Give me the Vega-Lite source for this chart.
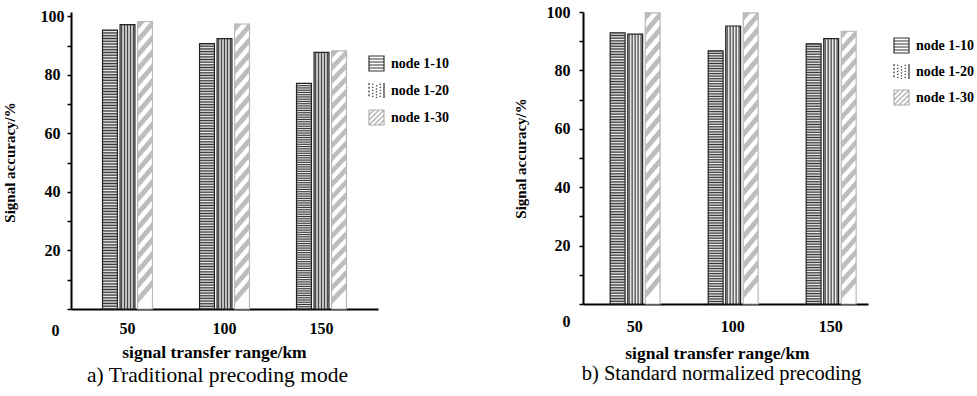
{
  "$schema": "https://vega.github.io/schema/vega-lite/v6.json",
  "background": "white",
  "padding": {"left": 2, "top": 4, "right": 5, "bottom": 5},
  "spacing": 64,
  "resolve": {"scale": {"color": "independent", "shape": "independent"}, "legend": {"color": "independent", "shape": "independent"}},
  "config": {"view": {"stroke": null}, "font": "Liberation Serif"},
  "hconcat": [
    {
      "width": 307,
      "height": 297,
      "data": {"values": [
        {"range": "50", "series": "node 1-10", "value": 95.3},
        {"range": "50", "series": "node 1-20", "value": 97.2},
        {"range": "50", "series": "node 1-30", "value": 98.2},
        {"range": "100", "series": "node 1-10", "value": 90.7},
        {"range": "100", "series": "node 1-20", "value": 92.4},
        {"range": "100", "series": "node 1-30", "value": 97.4},
        {"range": "150", "series": "node 1-10", "value": 77.1},
        {"range": "150", "series": "node 1-20", "value": 87.7},
        {"range": "150", "series": "node 1-30", "value": 88.2}
      ]},
      "title": {"text": "a) Traditional precoding mode", "orient": "bottom", "anchor": "middle", "font": "Liberation Serif", "fontSize": 21.5, "fontWeight": "normal", "color": "#000", "offset": 4, "dx": -7},
      "encoding": {
        "x": {"field": "range", "type": "ordinal", "sort": ["50", "100", "150"], "title": "signal transfer range/km",
          "scale": {"paddingInner": 0.485, "paddingOuter": 0.325},
          "axis": {"labelAngle": 0, "ticks": false, "domainColor": "#000", "domainWidth": 2, "labelFont": "Liberation Serif", "labelFontSize": 16, "labelFontWeight": "bold", "labelColor": "#000", "labelPadding": 11, "titleFont": "Liberation Serif", "titleFontSize": 17.5, "titleFontWeight": "bold", "titleColor": "#000", "titlePadding": 7, "titleX": 143}},
        "xOffset": {"field": "series", "sort": ["node 1-10", "node 1-20", "node 1-30"], "scale": {"paddingInner": 0.15, "paddingOuter": 0}},
        "y": {"field": "value", "type": "quantitative", "title": "Signal accuracy/%",
          "scale": {"domain": [0, 101.5], "nice": false},
          "axis": {"values": [0, 10, 20, 30, 40, 50, 60, 70, 80, 90, 100], "labelExpr": "datum.value % 20 === 0 ? datum.label : ''", "grid": false, "domainColor": "#000", "domainWidth": 2, "tickColor": "#000", "tickWidth": 1.5, "tickSize": 4, "labelOverlap": false, "labelFlush": false, "labelAlign": "center",
            "labelPadding": {"condition": {"test": "datum.value === 0", "value": 12}, "value": 15},
            "labelOffset": {"condition": {"test": "datum.value === 0", "value": 21}, "value": 0},
            "labelFont": "Liberation Serif", "labelFontSize": 16, "labelFontWeight": "bold", "labelColor": "#000",
            "titleFont": "Liberation Serif", "titleFontSize": 15, "titleFontWeight": "bold", "titleColor": "#000", "titlePadding": 23, "titleY": 150}}
      },
      "layer": [
        {
          "mark": {"type": "bar", "strokeWidth": 1.2},
          "encoding": {
            "stroke": {"condition": {"test": "datum.series === 'node 1-30'", "value": "#b8b8b8"}, "value": "#222"},
            "fill": {
              "condition": [
                {"test": "datum.series === 'node 1-10'", "value": {"gradient": "linear", "x1": 0, "y1": 0, "x2": 0, "y2": 1, "stops": [
                  {"offset":0,"color":"#333"},{"offset":0.005,"color":"#eee"},{"offset":0.01,"color":"#333"},{"offset":0.015,"color":"#eee"},{"offset":0.02,"color":"#333"},{"offset":0.025,"color":"#eee"},{"offset":0.03,"color":"#333"},{"offset":0.035,"color":"#eee"},{"offset":0.04,"color":"#333"},{"offset":0.045,"color":"#eee"},
                  {"offset":0.05,"color":"#333"},{"offset":0.055,"color":"#eee"},{"offset":0.06,"color":"#333"},{"offset":0.065,"color":"#eee"},{"offset":0.07,"color":"#333"},{"offset":0.075,"color":"#eee"},{"offset":0.08,"color":"#333"},{"offset":0.085,"color":"#eee"},{"offset":0.09,"color":"#333"},{"offset":0.095,"color":"#eee"},
                  {"offset":0.1,"color":"#333"},{"offset":0.105,"color":"#eee"},{"offset":0.11,"color":"#333"},{"offset":0.115,"color":"#eee"},{"offset":0.12,"color":"#333"},{"offset":0.125,"color":"#eee"},{"offset":0.13,"color":"#333"},{"offset":0.135,"color":"#eee"},{"offset":0.14,"color":"#333"},{"offset":0.145,"color":"#eee"},
                  {"offset":0.15,"color":"#333"},{"offset":0.155,"color":"#eee"},{"offset":0.16,"color":"#333"},{"offset":0.165,"color":"#eee"},{"offset":0.17,"color":"#333"},{"offset":0.175,"color":"#eee"},{"offset":0.18,"color":"#333"},{"offset":0.185,"color":"#eee"},{"offset":0.19,"color":"#333"},{"offset":0.195,"color":"#eee"},
                  {"offset":0.2,"color":"#333"},{"offset":0.205,"color":"#eee"},{"offset":0.21,"color":"#333"},{"offset":0.215,"color":"#eee"},{"offset":0.22,"color":"#333"},{"offset":0.225,"color":"#eee"},{"offset":0.23,"color":"#333"},{"offset":0.235,"color":"#eee"},{"offset":0.24,"color":"#333"},{"offset":0.245,"color":"#eee"},
                  {"offset":0.25,"color":"#333"},{"offset":0.255,"color":"#eee"},{"offset":0.26,"color":"#333"},{"offset":0.265,"color":"#eee"},{"offset":0.27,"color":"#333"},{"offset":0.275,"color":"#eee"},{"offset":0.28,"color":"#333"},{"offset":0.285,"color":"#eee"},{"offset":0.29,"color":"#333"},{"offset":0.295,"color":"#eee"},
                  {"offset":0.3,"color":"#333"},{"offset":0.305,"color":"#eee"},{"offset":0.31,"color":"#333"},{"offset":0.315,"color":"#eee"},{"offset":0.32,"color":"#333"},{"offset":0.325,"color":"#eee"},{"offset":0.33,"color":"#333"},{"offset":0.335,"color":"#eee"},{"offset":0.34,"color":"#333"},{"offset":0.345,"color":"#eee"},
                  {"offset":0.35,"color":"#333"},{"offset":0.355,"color":"#eee"},{"offset":0.36,"color":"#333"},{"offset":0.365,"color":"#eee"},{"offset":0.37,"color":"#333"},{"offset":0.375,"color":"#eee"},{"offset":0.38,"color":"#333"},{"offset":0.385,"color":"#eee"},{"offset":0.39,"color":"#333"},{"offset":0.395,"color":"#eee"},
                  {"offset":0.4,"color":"#333"},{"offset":0.405,"color":"#eee"},{"offset":0.41,"color":"#333"},{"offset":0.415,"color":"#eee"},{"offset":0.42,"color":"#333"},{"offset":0.425,"color":"#eee"},{"offset":0.43,"color":"#333"},{"offset":0.435,"color":"#eee"},{"offset":0.44,"color":"#333"},{"offset":0.445,"color":"#eee"},
                  {"offset":0.45,"color":"#333"},{"offset":0.455,"color":"#eee"},{"offset":0.46,"color":"#333"},{"offset":0.465,"color":"#eee"},{"offset":0.47,"color":"#333"},{"offset":0.475,"color":"#eee"},{"offset":0.48,"color":"#333"},{"offset":0.485,"color":"#eee"},{"offset":0.49,"color":"#333"},{"offset":0.495,"color":"#eee"},
                  {"offset":0.5,"color":"#333"},{"offset":0.505,"color":"#eee"},{"offset":0.51,"color":"#333"},{"offset":0.515,"color":"#eee"},{"offset":0.52,"color":"#333"},{"offset":0.525,"color":"#eee"},{"offset":0.53,"color":"#333"},{"offset":0.535,"color":"#eee"},{"offset":0.54,"color":"#333"},{"offset":0.545,"color":"#eee"},
                  {"offset":0.55,"color":"#333"},{"offset":0.555,"color":"#eee"},{"offset":0.56,"color":"#333"},{"offset":0.565,"color":"#eee"},{"offset":0.57,"color":"#333"},{"offset":0.575,"color":"#eee"},{"offset":0.58,"color":"#333"},{"offset":0.585,"color":"#eee"},{"offset":0.59,"color":"#333"},{"offset":0.595,"color":"#eee"},
                  {"offset":0.6,"color":"#333"},{"offset":0.605,"color":"#eee"},{"offset":0.61,"color":"#333"},{"offset":0.615,"color":"#eee"},{"offset":0.62,"color":"#333"},{"offset":0.625,"color":"#eee"},{"offset":0.63,"color":"#333"},{"offset":0.635,"color":"#eee"},{"offset":0.64,"color":"#333"},{"offset":0.645,"color":"#eee"},
                  {"offset":0.65,"color":"#333"},{"offset":0.655,"color":"#eee"},{"offset":0.66,"color":"#333"},{"offset":0.665,"color":"#eee"},{"offset":0.67,"color":"#333"},{"offset":0.675,"color":"#eee"},{"offset":0.68,"color":"#333"},{"offset":0.685,"color":"#eee"},{"offset":0.69,"color":"#333"},{"offset":0.695,"color":"#eee"},
                  {"offset":0.7,"color":"#333"},{"offset":0.705,"color":"#eee"},{"offset":0.71,"color":"#333"},{"offset":0.715,"color":"#eee"},{"offset":0.72,"color":"#333"},{"offset":0.725,"color":"#eee"},{"offset":0.73,"color":"#333"},{"offset":0.735,"color":"#eee"},{"offset":0.74,"color":"#333"},{"offset":0.745,"color":"#eee"},
                  {"offset":0.75,"color":"#333"},{"offset":0.755,"color":"#eee"},{"offset":0.76,"color":"#333"},{"offset":0.765,"color":"#eee"},{"offset":0.77,"color":"#333"},{"offset":0.775,"color":"#eee"},{"offset":0.78,"color":"#333"},{"offset":0.785,"color":"#eee"},{"offset":0.79,"color":"#333"},{"offset":0.795,"color":"#eee"},
                  {"offset":0.8,"color":"#333"},{"offset":0.805,"color":"#eee"},{"offset":0.81,"color":"#333"},{"offset":0.815,"color":"#eee"},{"offset":0.82,"color":"#333"},{"offset":0.825,"color":"#eee"},{"offset":0.83,"color":"#333"},{"offset":0.835,"color":"#eee"},{"offset":0.84,"color":"#333"},{"offset":0.845,"color":"#eee"},
                  {"offset":0.85,"color":"#333"},{"offset":0.855,"color":"#eee"},{"offset":0.86,"color":"#333"},{"offset":0.865,"color":"#eee"},{"offset":0.87,"color":"#333"},{"offset":0.875,"color":"#eee"},{"offset":0.88,"color":"#333"},{"offset":0.885,"color":"#eee"},{"offset":0.89,"color":"#333"},{"offset":0.895,"color":"#eee"},
                  {"offset":0.9,"color":"#333"},{"offset":0.905,"color":"#eee"},{"offset":0.91,"color":"#333"},{"offset":0.915,"color":"#eee"},{"offset":0.92,"color":"#333"},{"offset":0.925,"color":"#eee"},{"offset":0.93,"color":"#333"},{"offset":0.935,"color":"#eee"},{"offset":0.94,"color":"#333"},{"offset":0.945,"color":"#eee"},
                  {"offset":0.95,"color":"#333"},{"offset":0.955,"color":"#eee"},{"offset":0.96,"color":"#333"},{"offset":0.965,"color":"#eee"},{"offset":0.97,"color":"#333"},{"offset":0.975,"color":"#eee"},{"offset":0.98,"color":"#333"},{"offset":0.985,"color":"#eee"},{"offset":0.99,"color":"#333"},{"offset":0.995,"color":"#eee"},
                  {"offset":1,"color":"#333"}]}},
                {"test": "datum.series === 'node 1-20'", "value": {"gradient": "linear", "x1": 0, "y1": 0, "x2": 1, "y2": 0, "stops": [
                  {"offset":0,"color":"#fff"},{"offset":0.1,"color":"#444"},{"offset":0.2,"color":"#fff"},{"offset":0.3,"color":"#444"},{"offset":0.4,"color":"#fff"},{"offset":0.5,"color":"#444"},{"offset":0.6,"color":"#fff"},{"offset":0.7,"color":"#444"},{"offset":0.8,"color":"#fff"},{"offset":0.9,"color":"#444"},{"offset":1,"color":"#fff"}]}},
                {"test": "datum.series === 'node 1-30'", "value": {"gradient": "linear", "x1": 0, "y1": 0, "x2": 0.06, "y2": 1, "stops": [
                  {"offset":0,"color":"#fff"},{"offset":0.006,"color":"#bdbdbd"},{"offset":0.026,"color":"#bdbdbd"},{"offset":0.032,"color":"#fff"},
                  {"offset":0.05,"color":"#fff"},{"offset":0.056,"color":"#bdbdbd"},{"offset":0.076,"color":"#bdbdbd"},{"offset":0.082,"color":"#fff"},
                  {"offset":0.1,"color":"#fff"},{"offset":0.106,"color":"#bdbdbd"},{"offset":0.126,"color":"#bdbdbd"},{"offset":0.132,"color":"#fff"},
                  {"offset":0.15,"color":"#fff"},{"offset":0.156,"color":"#bdbdbd"},{"offset":0.176,"color":"#bdbdbd"},{"offset":0.182,"color":"#fff"},
                  {"offset":0.2,"color":"#fff"},{"offset":0.206,"color":"#bdbdbd"},{"offset":0.226,"color":"#bdbdbd"},{"offset":0.232,"color":"#fff"},
                  {"offset":0.25,"color":"#fff"},{"offset":0.256,"color":"#bdbdbd"},{"offset":0.276,"color":"#bdbdbd"},{"offset":0.282,"color":"#fff"},
                  {"offset":0.3,"color":"#fff"},{"offset":0.306,"color":"#bdbdbd"},{"offset":0.326,"color":"#bdbdbd"},{"offset":0.332,"color":"#fff"},
                  {"offset":0.35,"color":"#fff"},{"offset":0.356,"color":"#bdbdbd"},{"offset":0.376,"color":"#bdbdbd"},{"offset":0.382,"color":"#fff"},
                  {"offset":0.4,"color":"#fff"},{"offset":0.406,"color":"#bdbdbd"},{"offset":0.426,"color":"#bdbdbd"},{"offset":0.432,"color":"#fff"},
                  {"offset":0.45,"color":"#fff"},{"offset":0.456,"color":"#bdbdbd"},{"offset":0.476,"color":"#bdbdbd"},{"offset":0.482,"color":"#fff"},
                  {"offset":0.5,"color":"#fff"},{"offset":0.506,"color":"#bdbdbd"},{"offset":0.526,"color":"#bdbdbd"},{"offset":0.532,"color":"#fff"},
                  {"offset":0.55,"color":"#fff"},{"offset":0.556,"color":"#bdbdbd"},{"offset":0.576,"color":"#bdbdbd"},{"offset":0.582,"color":"#fff"},
                  {"offset":0.6,"color":"#fff"},{"offset":0.606,"color":"#bdbdbd"},{"offset":0.626,"color":"#bdbdbd"},{"offset":0.632,"color":"#fff"},
                  {"offset":0.65,"color":"#fff"},{"offset":0.656,"color":"#bdbdbd"},{"offset":0.676,"color":"#bdbdbd"},{"offset":0.682,"color":"#fff"},
                  {"offset":0.7,"color":"#fff"},{"offset":0.706,"color":"#bdbdbd"},{"offset":0.726,"color":"#bdbdbd"},{"offset":0.732,"color":"#fff"},
                  {"offset":0.75,"color":"#fff"},{"offset":0.756,"color":"#bdbdbd"},{"offset":0.776,"color":"#bdbdbd"},{"offset":0.782,"color":"#fff"},
                  {"offset":0.8,"color":"#fff"},{"offset":0.806,"color":"#bdbdbd"},{"offset":0.826,"color":"#bdbdbd"},{"offset":0.832,"color":"#fff"},
                  {"offset":0.85,"color":"#fff"},{"offset":0.856,"color":"#bdbdbd"},{"offset":0.876,"color":"#bdbdbd"},{"offset":0.882,"color":"#fff"},
                  {"offset":0.9,"color":"#fff"},{"offset":0.906,"color":"#bdbdbd"},{"offset":0.926,"color":"#bdbdbd"},{"offset":0.932,"color":"#fff"},
                  {"offset":0.95,"color":"#fff"},{"offset":0.956,"color":"#bdbdbd"},{"offset":0.976,"color":"#bdbdbd"},{"offset":0.982,"color":"#fff"},
                  {"offset":1,"color":"#fff"}]}}
              ],
              "value": "#888888"
            }
          }
        },
        {
          "mark": {"type": "point", "opacity": 0, "filled": false},
          "encoding": {
            "shape": {"field": "series", "type": "nominal",
              "scale": {"domain": ["node 1-10", "node 1-20", "node 1-30"], "range": [
                "M-1,-1H1V1H-1Z M-1,-0.6H1 M-1,-0.2H1 M-1,0.2H1 M-1,0.6H1",
                "M1,-1V1 M-1,-1V-0.75 M-1,-0.5V-0.25 M-1,0V0.25 M-1,0.5V0.75 M-0.5,-0.9V-0.75 M-0.5,-0.5V-0.35 M-0.5,-0.1V0.05 M-0.5,0.3V0.45 M-0.5,0.7V0.85 M0,-0.7V-0.55 M0,-0.3V-0.15 M0,0.1V0.25 M0,0.5V0.65 M0,0.85V1 M0.5,-0.9V-0.75 M0.5,-0.5V-0.35 M0.5,-0.1V0.05 M0.5,0.3V0.45 M0.5,0.7V0.85",
                "M-1,-1H1V1H-1Z M-1,-0.33L-0.33,-1 M-1,0.33L0.33,-1 M-1,1L1,-1 M-0.33,1L1,-0.33 M0.33,1L1,0.33"]},
              "legend": {"orient": "none", "legendX": 297, "legendY": 43, "title": null, "padding": 0, "symbolSize": 225, "symbolOpacity": 1, "symbolStrokeWidth": 1.2, "labelFont": "Liberation Serif", "labelFontSize": 14, "labelFontWeight": "bold", "labelColor": "#000", "labelOffset": 6, "rowPadding": 6}},
            "color": {"field": "series", "type": "nominal",
              "scale": {"domain": ["node 1-10", "node 1-20", "node 1-30"], "range": ["#333333", "#333333", "#b0b0b0"]},
              "legend": {"orient": "none", "legendX": 297, "legendY": 43, "title": null, "padding": 0, "symbolSize": 225, "symbolOpacity": 1, "symbolStrokeWidth": 1.2, "labelFont": "Liberation Serif", "labelFontSize": 14, "labelFontWeight": "bold", "labelColor": "#000", "labelOffset": 6, "rowPadding": 6}}
          }
        }
      ]
    },
    {
      "width": 285,
      "height": 292,
      "data": {"values": [
        {"range": "50", "series": "node 1-10", "value": 92.9},
        {"range": "50", "series": "node 1-20", "value": 92.4},
        {"range": "50", "series": "node 1-30", "value": 99.7},
        {"range": "100", "series": "node 1-10", "value": 86.7},
        {"range": "100", "series": "node 1-20", "value": 95.2},
        {"range": "100", "series": "node 1-30", "value": 99.7},
        {"range": "150", "series": "node 1-10", "value": 89.1},
        {"range": "150", "series": "node 1-20", "value": 90.9},
        {"range": "150", "series": "node 1-30", "value": 93.4}
      ]},
      "title": {"text": "b) Standard normalized precoding", "orient": "bottom", "anchor": "middle", "font": "Liberation Serif", "fontSize": 20.5, "fontWeight": "normal", "color": "#000", "offset": 2, "dx": -4},
      "encoding": {
        "x": {"field": "range", "type": "ordinal", "sort": ["50", "100", "150"], "title": "signal transfer range/km",
          "scale": {"paddingInner": 0.5, "paddingOuter": 0.204, "align": 0.68},
          "axis": {"labelAngle": 0, "ticks": false, "domainColor": "#000", "domainWidth": 2, "labelFont": "Liberation Serif", "labelFontSize": 16, "labelFontWeight": "bold", "labelColor": "#000", "labelPadding": 14, "titleFont": "Liberation Serif", "titleFontSize": 17.5, "titleFontWeight": "bold", "titleColor": "#000", "titlePadding": 10, "titleX": 134}},
        "xOffset": {"field": "series", "sort": ["node 1-10", "node 1-20", "node 1-30"], "scale": {"paddingInner": 0.15, "paddingOuter": 0}},
        "y": {"field": "value", "type": "quantitative", "title": "Signal accuracy/%",
          "scale": {"domain": [0, 100], "nice": false},
          "axis": {"values": [0, 10, 20, 30, 40, 50, 60, 70, 80, 90, 100], "labelExpr": "datum.value % 20 === 0 ? datum.label : ''", "grid": false, "domainColor": "#000", "domainWidth": 2, "tickColor": "#000", "tickWidth": 1.5, "tickSize": 4, "labelOverlap": false, "labelFlush": false,
            "labelPadding": 9,
            "labelOffset": {"condition": {"test": "datum.value === 0", "value": 17}, "value": 0},
            "labelFont": "Liberation Serif", "labelFontSize": 16, "labelFontWeight": "bold", "labelColor": "#000",
            "titleFont": "Liberation Serif", "titleFontSize": 15, "titleFontWeight": "bold", "titleColor": "#000", "titlePadding": 18}}
      },
      "layer": [
        {
          "mark": {"type": "bar", "strokeWidth": 1.2},
          "encoding": {
            "stroke": {"condition": {"test": "datum.series === 'node 1-30'", "value": "#b8b8b8"}, "value": "#222"},
            "fill": {
              "condition": [
                {"test": "datum.series === 'node 1-10'", "value": {"gradient": "linear", "x1": 0, "y1": 0, "x2": 0, "y2": 1, "stops": [
                  {"offset":0,"color":"#333"},{"offset":0.005,"color":"#eee"},{"offset":0.01,"color":"#333"},{"offset":0.015,"color":"#eee"},{"offset":0.02,"color":"#333"},{"offset":0.025,"color":"#eee"},{"offset":0.03,"color":"#333"},{"offset":0.035,"color":"#eee"},{"offset":0.04,"color":"#333"},{"offset":0.045,"color":"#eee"},
                  {"offset":0.05,"color":"#333"},{"offset":0.055,"color":"#eee"},{"offset":0.06,"color":"#333"},{"offset":0.065,"color":"#eee"},{"offset":0.07,"color":"#333"},{"offset":0.075,"color":"#eee"},{"offset":0.08,"color":"#333"},{"offset":0.085,"color":"#eee"},{"offset":0.09,"color":"#333"},{"offset":0.095,"color":"#eee"},
                  {"offset":0.1,"color":"#333"},{"offset":0.105,"color":"#eee"},{"offset":0.11,"color":"#333"},{"offset":0.115,"color":"#eee"},{"offset":0.12,"color":"#333"},{"offset":0.125,"color":"#eee"},{"offset":0.13,"color":"#333"},{"offset":0.135,"color":"#eee"},{"offset":0.14,"color":"#333"},{"offset":0.145,"color":"#eee"},
                  {"offset":0.15,"color":"#333"},{"offset":0.155,"color":"#eee"},{"offset":0.16,"color":"#333"},{"offset":0.165,"color":"#eee"},{"offset":0.17,"color":"#333"},{"offset":0.175,"color":"#eee"},{"offset":0.18,"color":"#333"},{"offset":0.185,"color":"#eee"},{"offset":0.19,"color":"#333"},{"offset":0.195,"color":"#eee"},
                  {"offset":0.2,"color":"#333"},{"offset":0.205,"color":"#eee"},{"offset":0.21,"color":"#333"},{"offset":0.215,"color":"#eee"},{"offset":0.22,"color":"#333"},{"offset":0.225,"color":"#eee"},{"offset":0.23,"color":"#333"},{"offset":0.235,"color":"#eee"},{"offset":0.24,"color":"#333"},{"offset":0.245,"color":"#eee"},
                  {"offset":0.25,"color":"#333"},{"offset":0.255,"color":"#eee"},{"offset":0.26,"color":"#333"},{"offset":0.265,"color":"#eee"},{"offset":0.27,"color":"#333"},{"offset":0.275,"color":"#eee"},{"offset":0.28,"color":"#333"},{"offset":0.285,"color":"#eee"},{"offset":0.29,"color":"#333"},{"offset":0.295,"color":"#eee"},
                  {"offset":0.3,"color":"#333"},{"offset":0.305,"color":"#eee"},{"offset":0.31,"color":"#333"},{"offset":0.315,"color":"#eee"},{"offset":0.32,"color":"#333"},{"offset":0.325,"color":"#eee"},{"offset":0.33,"color":"#333"},{"offset":0.335,"color":"#eee"},{"offset":0.34,"color":"#333"},{"offset":0.345,"color":"#eee"},
                  {"offset":0.35,"color":"#333"},{"offset":0.355,"color":"#eee"},{"offset":0.36,"color":"#333"},{"offset":0.365,"color":"#eee"},{"offset":0.37,"color":"#333"},{"offset":0.375,"color":"#eee"},{"offset":0.38,"color":"#333"},{"offset":0.385,"color":"#eee"},{"offset":0.39,"color":"#333"},{"offset":0.395,"color":"#eee"},
                  {"offset":0.4,"color":"#333"},{"offset":0.405,"color":"#eee"},{"offset":0.41,"color":"#333"},{"offset":0.415,"color":"#eee"},{"offset":0.42,"color":"#333"},{"offset":0.425,"color":"#eee"},{"offset":0.43,"color":"#333"},{"offset":0.435,"color":"#eee"},{"offset":0.44,"color":"#333"},{"offset":0.445,"color":"#eee"},
                  {"offset":0.45,"color":"#333"},{"offset":0.455,"color":"#eee"},{"offset":0.46,"color":"#333"},{"offset":0.465,"color":"#eee"},{"offset":0.47,"color":"#333"},{"offset":0.475,"color":"#eee"},{"offset":0.48,"color":"#333"},{"offset":0.485,"color":"#eee"},{"offset":0.49,"color":"#333"},{"offset":0.495,"color":"#eee"},
                  {"offset":0.5,"color":"#333"},{"offset":0.505,"color":"#eee"},{"offset":0.51,"color":"#333"},{"offset":0.515,"color":"#eee"},{"offset":0.52,"color":"#333"},{"offset":0.525,"color":"#eee"},{"offset":0.53,"color":"#333"},{"offset":0.535,"color":"#eee"},{"offset":0.54,"color":"#333"},{"offset":0.545,"color":"#eee"},
                  {"offset":0.55,"color":"#333"},{"offset":0.555,"color":"#eee"},{"offset":0.56,"color":"#333"},{"offset":0.565,"color":"#eee"},{"offset":0.57,"color":"#333"},{"offset":0.575,"color":"#eee"},{"offset":0.58,"color":"#333"},{"offset":0.585,"color":"#eee"},{"offset":0.59,"color":"#333"},{"offset":0.595,"color":"#eee"},
                  {"offset":0.6,"color":"#333"},{"offset":0.605,"color":"#eee"},{"offset":0.61,"color":"#333"},{"offset":0.615,"color":"#eee"},{"offset":0.62,"color":"#333"},{"offset":0.625,"color":"#eee"},{"offset":0.63,"color":"#333"},{"offset":0.635,"color":"#eee"},{"offset":0.64,"color":"#333"},{"offset":0.645,"color":"#eee"},
                  {"offset":0.65,"color":"#333"},{"offset":0.655,"color":"#eee"},{"offset":0.66,"color":"#333"},{"offset":0.665,"color":"#eee"},{"offset":0.67,"color":"#333"},{"offset":0.675,"color":"#eee"},{"offset":0.68,"color":"#333"},{"offset":0.685,"color":"#eee"},{"offset":0.69,"color":"#333"},{"offset":0.695,"color":"#eee"},
                  {"offset":0.7,"color":"#333"},{"offset":0.705,"color":"#eee"},{"offset":0.71,"color":"#333"},{"offset":0.715,"color":"#eee"},{"offset":0.72,"color":"#333"},{"offset":0.725,"color":"#eee"},{"offset":0.73,"color":"#333"},{"offset":0.735,"color":"#eee"},{"offset":0.74,"color":"#333"},{"offset":0.745,"color":"#eee"},
                  {"offset":0.75,"color":"#333"},{"offset":0.755,"color":"#eee"},{"offset":0.76,"color":"#333"},{"offset":0.765,"color":"#eee"},{"offset":0.77,"color":"#333"},{"offset":0.775,"color":"#eee"},{"offset":0.78,"color":"#333"},{"offset":0.785,"color":"#eee"},{"offset":0.79,"color":"#333"},{"offset":0.795,"color":"#eee"},
                  {"offset":0.8,"color":"#333"},{"offset":0.805,"color":"#eee"},{"offset":0.81,"color":"#333"},{"offset":0.815,"color":"#eee"},{"offset":0.82,"color":"#333"},{"offset":0.825,"color":"#eee"},{"offset":0.83,"color":"#333"},{"offset":0.835,"color":"#eee"},{"offset":0.84,"color":"#333"},{"offset":0.845,"color":"#eee"},
                  {"offset":0.85,"color":"#333"},{"offset":0.855,"color":"#eee"},{"offset":0.86,"color":"#333"},{"offset":0.865,"color":"#eee"},{"offset":0.87,"color":"#333"},{"offset":0.875,"color":"#eee"},{"offset":0.88,"color":"#333"},{"offset":0.885,"color":"#eee"},{"offset":0.89,"color":"#333"},{"offset":0.895,"color":"#eee"},
                  {"offset":0.9,"color":"#333"},{"offset":0.905,"color":"#eee"},{"offset":0.91,"color":"#333"},{"offset":0.915,"color":"#eee"},{"offset":0.92,"color":"#333"},{"offset":0.925,"color":"#eee"},{"offset":0.93,"color":"#333"},{"offset":0.935,"color":"#eee"},{"offset":0.94,"color":"#333"},{"offset":0.945,"color":"#eee"},
                  {"offset":0.95,"color":"#333"},{"offset":0.955,"color":"#eee"},{"offset":0.96,"color":"#333"},{"offset":0.965,"color":"#eee"},{"offset":0.97,"color":"#333"},{"offset":0.975,"color":"#eee"},{"offset":0.98,"color":"#333"},{"offset":0.985,"color":"#eee"},{"offset":0.99,"color":"#333"},{"offset":0.995,"color":"#eee"},
                  {"offset":1,"color":"#333"}]}},
                {"test": "datum.series === 'node 1-20'", "value": {"gradient": "linear", "x1": 0, "y1": 0, "x2": 1, "y2": 0, "stops": [
                  {"offset":0,"color":"#fff"},{"offset":0.1,"color":"#444"},{"offset":0.2,"color":"#fff"},{"offset":0.3,"color":"#444"},{"offset":0.4,"color":"#fff"},{"offset":0.5,"color":"#444"},{"offset":0.6,"color":"#fff"},{"offset":0.7,"color":"#444"},{"offset":0.8,"color":"#fff"},{"offset":0.9,"color":"#444"},{"offset":1,"color":"#fff"}]}},
                {"test": "datum.series === 'node 1-30'", "value": {"gradient": "linear", "x1": 0, "y1": 0, "x2": 0.06, "y2": 1, "stops": [
                  {"offset":0,"color":"#fff"},{"offset":0.006,"color":"#bdbdbd"},{"offset":0.026,"color":"#bdbdbd"},{"offset":0.032,"color":"#fff"},
                  {"offset":0.05,"color":"#fff"},{"offset":0.056,"color":"#bdbdbd"},{"offset":0.076,"color":"#bdbdbd"},{"offset":0.082,"color":"#fff"},
                  {"offset":0.1,"color":"#fff"},{"offset":0.106,"color":"#bdbdbd"},{"offset":0.126,"color":"#bdbdbd"},{"offset":0.132,"color":"#fff"},
                  {"offset":0.15,"color":"#fff"},{"offset":0.156,"color":"#bdbdbd"},{"offset":0.176,"color":"#bdbdbd"},{"offset":0.182,"color":"#fff"},
                  {"offset":0.2,"color":"#fff"},{"offset":0.206,"color":"#bdbdbd"},{"offset":0.226,"color":"#bdbdbd"},{"offset":0.232,"color":"#fff"},
                  {"offset":0.25,"color":"#fff"},{"offset":0.256,"color":"#bdbdbd"},{"offset":0.276,"color":"#bdbdbd"},{"offset":0.282,"color":"#fff"},
                  {"offset":0.3,"color":"#fff"},{"offset":0.306,"color":"#bdbdbd"},{"offset":0.326,"color":"#bdbdbd"},{"offset":0.332,"color":"#fff"},
                  {"offset":0.35,"color":"#fff"},{"offset":0.356,"color":"#bdbdbd"},{"offset":0.376,"color":"#bdbdbd"},{"offset":0.382,"color":"#fff"},
                  {"offset":0.4,"color":"#fff"},{"offset":0.406,"color":"#bdbdbd"},{"offset":0.426,"color":"#bdbdbd"},{"offset":0.432,"color":"#fff"},
                  {"offset":0.45,"color":"#fff"},{"offset":0.456,"color":"#bdbdbd"},{"offset":0.476,"color":"#bdbdbd"},{"offset":0.482,"color":"#fff"},
                  {"offset":0.5,"color":"#fff"},{"offset":0.506,"color":"#bdbdbd"},{"offset":0.526,"color":"#bdbdbd"},{"offset":0.532,"color":"#fff"},
                  {"offset":0.55,"color":"#fff"},{"offset":0.556,"color":"#bdbdbd"},{"offset":0.576,"color":"#bdbdbd"},{"offset":0.582,"color":"#fff"},
                  {"offset":0.6,"color":"#fff"},{"offset":0.606,"color":"#bdbdbd"},{"offset":0.626,"color":"#bdbdbd"},{"offset":0.632,"color":"#fff"},
                  {"offset":0.65,"color":"#fff"},{"offset":0.656,"color":"#bdbdbd"},{"offset":0.676,"color":"#bdbdbd"},{"offset":0.682,"color":"#fff"},
                  {"offset":0.7,"color":"#fff"},{"offset":0.706,"color":"#bdbdbd"},{"offset":0.726,"color":"#bdbdbd"},{"offset":0.732,"color":"#fff"},
                  {"offset":0.75,"color":"#fff"},{"offset":0.756,"color":"#bdbdbd"},{"offset":0.776,"color":"#bdbdbd"},{"offset":0.782,"color":"#fff"},
                  {"offset":0.8,"color":"#fff"},{"offset":0.806,"color":"#bdbdbd"},{"offset":0.826,"color":"#bdbdbd"},{"offset":0.832,"color":"#fff"},
                  {"offset":0.85,"color":"#fff"},{"offset":0.856,"color":"#bdbdbd"},{"offset":0.876,"color":"#bdbdbd"},{"offset":0.882,"color":"#fff"},
                  {"offset":0.9,"color":"#fff"},{"offset":0.906,"color":"#bdbdbd"},{"offset":0.926,"color":"#bdbdbd"},{"offset":0.932,"color":"#fff"},
                  {"offset":0.95,"color":"#fff"},{"offset":0.956,"color":"#bdbdbd"},{"offset":0.976,"color":"#bdbdbd"},{"offset":0.982,"color":"#fff"},
                  {"offset":1,"color":"#fff"}]}}
              ],
              "value": "#888888"
            }
          }
        },
        {
          "mark": {"type": "point", "opacity": 0, "filled": false},
          "encoding": {
            "shape": {"field": "series", "type": "nominal",
              "scale": {"domain": ["node 1-10", "node 1-20", "node 1-30"], "range": [
                "M-1,-1H1V1H-1Z M-1,-0.6H1 M-1,-0.2H1 M-1,0.2H1 M-1,0.6H1",
                "M1,-1V1 M-1,-1V-0.75 M-1,-0.5V-0.25 M-1,0V0.25 M-1,0.5V0.75 M-0.5,-0.9V-0.75 M-0.5,-0.5V-0.35 M-0.5,-0.1V0.05 M-0.5,0.3V0.45 M-0.5,0.7V0.85 M0,-0.7V-0.55 M0,-0.3V-0.15 M0,0.1V0.25 M0,0.5V0.65 M0,0.85V1 M0.5,-0.9V-0.75 M0.5,-0.5V-0.35 M0.5,-0.1V0.05 M0.5,0.3V0.45 M0.5,0.7V0.85",
                "M-1,-1H1V1H-1Z M-1,-0.33L-0.33,-1 M-1,0.33L0.33,-1 M-1,1L1,-1 M-0.33,1L1,-0.33 M0.33,1L1,0.33"]},
              "legend": {"orient": "none", "legendX": 310, "legendY": 25, "title": null, "padding": 0, "symbolSize": 225, "symbolOpacity": 1, "symbolStrokeWidth": 1.2, "labelFont": "Liberation Serif", "labelFontSize": 14, "labelFontWeight": "bold", "labelColor": "#000", "labelOffset": 6, "rowPadding": 5}},
            "color": {"field": "series", "type": "nominal",
              "scale": {"domain": ["node 1-10", "node 1-20", "node 1-30"], "range": ["#333333", "#333333", "#b0b0b0"]},
              "legend": {"orient": "none", "legendX": 310, "legendY": 25, "title": null, "padding": 0, "symbolSize": 225, "symbolOpacity": 1, "symbolStrokeWidth": 1.2, "labelFont": "Liberation Serif", "labelFontSize": 14, "labelFontWeight": "bold", "labelColor": "#000", "labelOffset": 6, "rowPadding": 5}}
          }
        }
      ]
    }
  ]
}
